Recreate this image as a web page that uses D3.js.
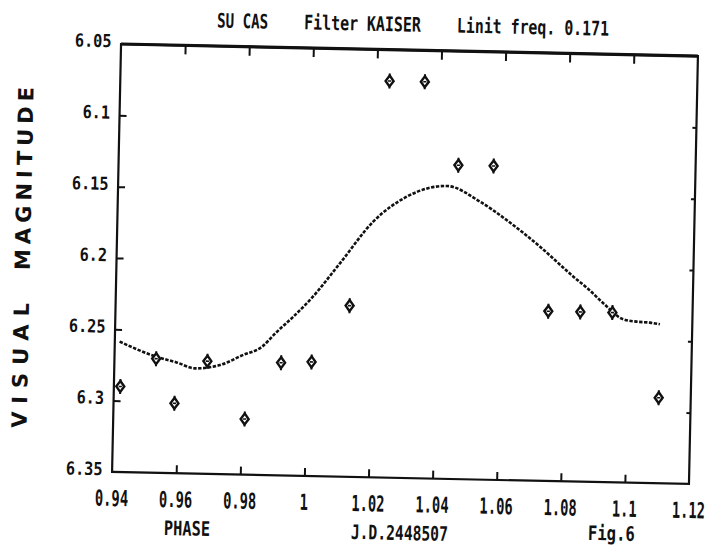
<!DOCTYPE html>
<html lang="en">
<head>
    <meta charset="UTF-8">
    <title>SU CAS</title>
    <script src="https://cdn.jsdelivr.net/npm/d3@7/dist/d3.min.js"></script>
    <style>
        body { margin: 0; background: #fff; }
        text { font-family: "DejaVu Sans Mono", monospace; fill: #111; }
    </style>
</head>
<body>
    <div class="chart"></div>
<script>
    // observed points (phase, visual magnitude)
    const phase = [0.942, 0.953, 0.959, 0.969, 0.981, 0.992, 1.0015, 1.013, 1.024, 1.035, 1.046, 1.057, 1.075, 1.085, 1.095, 1.110]
    const mag = [6.290, 6.270, 6.301, 6.271, 6.311, 6.271, 6.270, 6.230, 6.072, 6.072, 6.130, 6.130, 6.231, 6.231, 6.231, 6.290]

    // filtered curve
    const fitPhase = [0.9415, 0.953, 0.9594, 0.9652, 0.973, 0.980, 0.986, 0.990, 0.9955, 1.0006, 1.0097, 1.0198, 1.0301, 1.0425, 1.053, 1.0614, 1.072, 1.0826, 1.0874, 1.0921, 1.0985, 1.1026, 1.1068, 1.1099]
    const fitMag = [6.2586, 6.2686, 6.2723, 6.2762, 6.2735, 6.2662, 6.2600, 6.2505, 6.2386, 6.2266, 6.2005, 6.1708, 6.1528, 6.1447, 6.1552, 6.1677, 6.1859, 6.2064, 6.2150, 6.2246, 6.2356, 6.2370, 6.2375, 6.2385]

    const xTicks = [0.94, 0.96, 0.98, 1.00, 1.02, 1.04, 1.06, 1.08, 1.10, 1.12]
    const yTicks = [6.05, 6.10, 6.15, 6.20, 6.25, 6.30, 6.35]

    const width = 720
    const height = 550
    const margin = { top: 50, left: 116.5 }
    const w = 577
    const h = 428
    const fmt = d => String(+d.toFixed(2))

    const svg = d3.select('.chart').append('svg')
        .attr('width', width)
        .attr('height', height)

    // the scanned page is slightly tilted
    const page = svg.append('g').attr('transform', 'rotate(1.2, 405, 264)')

    const x = d3.scaleLinear().domain([0.94, 1.12]).range([0, w])
    const y = d3.scaleLinear().domain([6.05, 6.35]).range([0, h])

    const g = page.append('g').attr('transform', `translate(${margin.left}, ${margin.top})`)

    // ticks
    const inner = xTicks.slice(1, -1)
    g.append('g').attr('transform', `translate(0, ${h})`)
        .call(d3.axisTop(x).tickValues(inner).tickSize(8).tickFormat(''))
    g.append('g')
        .call(d3.axisBottom(x).tickValues(inner).tickSize(9).tickFormat(''))
    g.append('g')
        .call(d3.axisRight(y).tickValues(yTicks.slice(1, -1)).tickSize(7).tickFormat(''))
    g.append('g').attr('transform', `translate(${w}, 0)`)
        .call(d3.axisLeft(y).tickValues(yTicks.slice(1, -1)).tickSize(4).tickFormat(''))
    g.selectAll('.domain').remove()
    g.selectAll('.tick line').attr('stroke', '#111').attr('stroke-width', 2)

    // frame
    g.append('rect')
        .attr('width', w).attr('height', h)
        .attr('fill', 'none').attr('stroke', '#111').attr('stroke-width', 2.2)
    g.append('line')
        .attr('x1', 0).attr('x2', w)
        .attr('stroke', '#111').attr('stroke-width', 3.2)

    // tick labels
    g.selectAll('.xlab').data(xTicks).join('text')
        .attr('class', 'xlab')
        .attr('x', d => x(d))
        .attr('y', h + 34)
        .attr('text-anchor', 'middle')
        .attr('font-size', 22)
        .attr('font-weight', 'bold')
        .attr('textLength', d => fmt(d).length * 8.3)
        .attr('lengthAdjust', 'spacingAndGlyphs')
        .text(fmt)

    g.selectAll('.ylab').data(yTicks).join('text')
        .attr('class', 'ylab')
        .attr('x', -9.5)
        .attr('y', d => y(d) + 3.5)
        .attr('text-anchor', 'end')
        .attr('font-size', 18)
        .attr('font-weight', 'bold')
        .attr('textLength', d => fmt(d).length * 9.2)
        .attr('lengthAdjust', 'spacingAndGlyphs')
        .text(fmt)

    // curve
    const line = d3.line()
        .x(d => x(d[0]))
        .y(d => y(d[1]))
        .curve(d3.curveMonotoneX)
    g.append('path')
        .datum(fitPhase.map((p, i) => [p, fitMag[i]]))
        .attr('d', line)
        .attr('fill', 'none')
        .attr('stroke', '#111')
        .attr('stroke-width', 2.6)
        .attr('stroke-dasharray', '3.4,1.5')

    // points
    const marks = g.selectAll('.pt').data(phase.map((p, i) => [p, mag[i]])).join('g')
        .attr('class', 'pt')
        .attr('transform', d => `translate(${x(d[0])}, ${y(d[1])})`)
    marks.append('line')
        .attr('y1', -7.5).attr('y2', 7.5)
        .attr('stroke', '#111').attr('stroke-width', 2)
    marks.append('path')
        .attr('d', 'M0,-5.5L4,0L0,5.5L-4,0Z')
        .attr('fill', '#fff').attr('stroke', '#111').attr('stroke-width', 2.4)
    marks.append('line')
        .attr('x1', -1.6).attr('x2', 1.6)
        .attr('stroke', '#111').attr('stroke-width', 1.6)

    // titles, in page coordinates (before tilt)
    const labels = [
        ['SU CAS', 212, 31.5, 51],
        ['Filter KAISER', 299, 31.5, 117],
        ['Linit freq. 0.171', 452, 31.5, 152]
    ]
    page.selectAll('.title').data(labels).join('text')
        .attr('class', 'title')
        .attr('x', d => d[1]).attr('y', d => d[2])
        .attr('font-size', 20)
        .attr('font-weight', 'bold')
        .attr('textLength', d => d[3])
        .attr('lengthAdjust', 'spacingAndGlyphs')
        .text(d => d[0])

    const foot = [
        ['PHASE', 192.6, 540, 46],
        ['J.D.2448507', 405, 540, 97],
        ['Fig.6', 617, 536, 47]
    ]
    page.selectAll('.foot').data(foot).join('text')
        .attr('class', 'foot')
        .attr('x', d => d[1] - d[3] / 2).attr('y', d => d[2])
        .attr('font-size', 20)
        .attr('font-weight', 'bold')
        .attr('textLength', d => d[3])
        .attr('lengthAdjust', 'spacingAndGlyphs')
        .text(d => d[0])

    // vertical axis title
    const ytitle = [['VISUAL', 436, 125], ['MAGNITUDE', 278, 183]]
    page.selectAll('.ytitle').data(ytitle).join('text')
        .attr('class', 'ytitle')
        .attr('transform', d => `translate(30, ${d[1]}) rotate(-90)`)
        .style('font-family', '"DejaVu Sans", sans-serif')
        .attr('font-weight', 'bold')
        .attr('font-size', 21)
        .attr('textLength', d => d[2])
        .attr('lengthAdjust', 'spacing')
        .text(d => d[0])
</script>
</body>
</html>
